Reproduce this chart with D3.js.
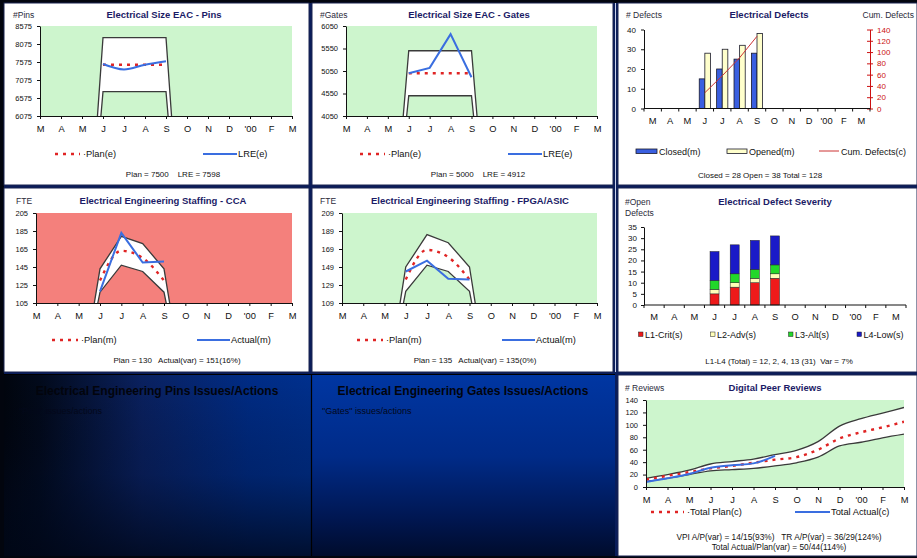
<!DOCTYPE html>
<html>
<head>
<meta charset="utf-8">
<script src="https://cdn.jsdelivr.net/npm/d3@7"></script>
<style>
  body { margin: 0; background: #0a1d5a; }
  svg { display: block; font-family: "Liberation Sans", Arial, sans-serif; }
  svg text { white-space: pre; }
</style>
</head>
<body>
<svg id="c" width="917" height="558"></svg>
<script>
// ---------- data ----------
const months = ["M", "A", "M", "J", "J", "A", "S", "O", "N", "D", "'00", "F", "M"];

// Electrical size EAC – pins (tracked Jun–Sep; control limits fall to zero outside)
const pinsTicks = [6075, 6575, 7075, 7575, 8075, 8575];
const pinsUpper = [0, 0, 0, 8250, 8250, 8250, 8250, 0, 0, 0, 0, 0, 0];
const pinsLower = [0, 0, 0, 6750, 6750, 6750, 6750, 0, 0, 0, 0, 0, 0];
const pinsPlan  = [null, null, null, 7500, 7500, 7500, 7500, null, null, null, null, null, null];
const pinsLRE   = [null, null, null, 7520, 7370, 7500, 7598, null, null, null, null, null, null];

// Electrical size EAC – gates
const gatesTicks = [4050, 4550, 5050, 5550, 6050];
const gatesUpper = [0, 0, 0, 5500, 5500, 5500, 5500, 0, 0, 0, 0, 0, 0];
const gatesLower = [0, 0, 0, 4500, 4500, 4500, 4500, 0, 0, 0, 0, 0, 0];
const gatesPlan  = [null, null, null, 5000, 5000, 5000, 5000, null, null, null, null, null, null];
const gatesLRE   = [null, null, null, 5000, 5120, 5870, 4912, null, null, null, null, null, null];

// Electrical defects
const defectTicks   = [0, 10, 20, 30, 40];
const cumTicks      = [0, 20, 40, 60, 80, 100, 120, 140];
const defectsClosed = [null, null, null, 15, 20, 25, 28, null, null, null, null, null, null];
const defectsOpened = [null, null, null, 28, 30, 32, 38, null, null, null, null, null, null];
const defectsCum    = [null, null, null, 28, 58, 90, 128, null, null, null, null, null, null];

// Staffing – CCA
const ccaTicks  = [105, 125, 145, 165, 185, 205];
const ccaUpper  = [0, 0, 0, 143, 179, 171, 143, 0, 0, 0, 0, 0, 0];
const ccaLower  = [0, 0, 0, 117, 147, 140, 117, 0, 0, 0, 0, 0, 0];
const ccaPlan   = [null, null, null, 130, 163, 155, 130, null, null, null, null, null, null];
const ccaActual = [null, null, null, 118, 183, 150, 151, null, null, null, null, null, null];

// Staffing – FPGA/ASIC
const fpgaTicks  = [109, 129, 149, 169, 189, 209];
const fpgaUpper  = [0, 0, 0, 149, 185, 176, 149, 0, 0, 0, 0, 0, 0];
const fpgaLower  = [0, 0, 0, 122, 151, 144, 122, 0, 0, 0, 0, 0, 0];
const fpgaPlan   = [null, null, null, 135, 168, 160, 135, null, null, null, null, null, null];
const fpgaActual = [null, null, null, 144, 156, 136, 135, null, null, null, null, null, null];

// Defect severity (open defects by level)
const sevTicks = [0, 5, 10, 15, 20, 25, 30, 35];
const sevKeys  = ["L1-Crit(s)", "L2-Adv(s)", "L3-Alt(s)", "L4-Low(s)"];
const sevL1 = [null, null, null, 5, 8, 10, 12, null, null, null, null, null, null];
const sevL2 = [null, null, null, 2, 2, 2, 2, null, null, null, null, null, null];
const sevL3 = [null, null, null, 4, 4, 4, 4, null, null, null, null, null, null];
const sevL4 = [null, null, null, 13, 13, 13, 13, null, null, null, null, null, null];

// Digital peer reviews (cumulative)
const revTicks  = [0, 20, 40, 60, 80, 100, 120, 140];
const revUpper  = [14, 20, 27, 37, 41, 45, 52, 59, 73, 98, 110, 119, 128];
const revLower  = [9, 14, 20, 26, 28, 30, 34, 39, 48, 66, 72, 79, 85];
const revPlan   = [12, 18, 24, 30, 34, 39, 44, 48, 60, 78, 88, 96, 105];
const revActual = [8, 14, 21, 31, 35, 38, 50, null, null, null, null, null, null];

// ---------- drawing ----------
const W = 917, H = 558;
const FONT = "Liberation Sans, Arial, sans-serif";
const TITLE = "#1b1b66";
const GREEN = "#cdf5cd";
const SALMON = "#f4807c";
const RED = "#e02424";
const BLUE = "#3a6ee0";
const svg = d3.select("#c");
const defs = svg.append("defs");
let clipN = 0;

// page frame
svg.append("rect").attr("width", W).attr("height", H).attr("fill", "#0a1d5a");
svg.append("rect").attr("width", 4).attr("height", H).attr("fill", "#02050e");
svg.append("rect").attr("width", W).attr("height", 3).attr("fill", "#02050e");
svg.append("rect").attr("y", 556).attr("width", W).attr("height", 2).attr("fill", "#02050e");

// white chart panels
[[4, 3, 305, 182], [312, 3, 301, 182], [618, 3, 299, 182],
 [4, 188, 305, 184], [312, 188, 301, 184], [618, 188, 299, 184],
 [618, 375, 299, 181]].forEach(([x, y, w, h]) => {
  svg.append("rect").attr("x", x).attr("y", y).attr("width", w).attr("height", h)
    .attr("fill", "#fff").attr("stroke", "#1a2450").attr("stroke-width", 1);
});
svg.append("line").attr("x1", 615.5).attr("x2", 615.5).attr("y1", 3).attr("y2", 372)
  .attr("stroke", "#c8d0e8").attr("stroke-width", 1);

// issues/actions text boxes
const gH = defs.append("linearGradient").attr("id", "gH").attr("x1", 0).attr("x2", 1).attr("y1", 0).attr("y2", 0);
[[0, "#01050e"], [0.12, "#020a1c"], [0.45, "#0a2160"], [0.8, "#002c86"], [1, "#00308e"]]
  .forEach(([o, c]) => gH.append("stop").attr("offset", o).attr("stop-color", c));
const gV = defs.append("linearGradient").attr("id", "gV").attr("x1", 0).attr("x2", 0).attr("y1", 0).attr("y2", 1);
[[0, "#000", 0], [0.55, "#000a22", 0.25], [1, "#000718", 0.8]]
  .forEach(([o, c, a]) => gV.append("stop").attr("offset", o).attr("stop-color", c).attr("stop-opacity", a));
const gB = defs.append("linearGradient").attr("id", "gB").attr("x1", 0).attr("x2", 0).attr("y1", 0).attr("y2", 1);
[[0, "#0036a2"], [0.45, "#002b88"], [0.8, "#001650"], [1, "#000c2c"]]
  .forEach(([o, c]) => gB.append("stop").attr("offset", o).attr("stop-color", c));

svg.append("rect").attr("x", 4).attr("y", 375).attr("width", 307).attr("height", 181).attr("fill", "url(#gH)");
svg.append("rect").attr("x", 4).attr("y", 375).attr("width", 307).attr("height", 181).attr("fill", "url(#gV)");
svg.append("rect").attr("x", 312).attr("y", 375).attr("width", 303).attr("height", 181).attr("fill", "url(#gB)");
svg.append("line").attr("x1", 311.5).attr("x2", 311.5).attr("y1", 374).attr("y2", 556).attr("stroke", "#000").attr("stroke-width", 1.2);
svg.append("line").attr("x1", 4).attr("x2", 615).attr("y1", 374.5).attr("y2", 374.5).attr("stroke", "#000").attr("stroke-width", 1.2);

function text(x, y, s, o = {}) {
  return svg.append("text").attr("x", x).attr("y", y).text(s)
    .attr("font-family", FONT).attr("font-size", o.size || 9)
    .attr("font-weight", o.bold ? "bold" : null)
    .attr("text-anchor", o.anchor || "start")
    .attr("fill", o.fill || "#111");
}

text(157, 395, "Electrical Engineering Pins Issues/Actions", { size: 12, bold: true, anchor: "middle", fill: "#02040c" });
text(19, 414, "\"Pins\" issues/actions", { size: 9, fill: "#03081a" });
text(463, 395, "Electrical Engineering Gates Issues/Actions", { size: 12, bold: true, anchor: "middle", fill: "#02040c" });
text(322, 414, "\"Gates\" issues/actions", { size: 9, fill: "#03081a" });

function styleAxis(ax, size, color) {
  ax.attr("font-family", FONT).attr("font-size", size);
  ax.selectAll("path,line").attr("stroke", color || "#111");
  ax.selectAll("text").attr("fill", color || "#111");
}

function lineLegend(x1, x2, y, dashed, label) {
  svg.append("line").attr("x1", x1).attr("x2", x2).attr("y1", y).attr("y2", y)
    .attr("stroke", dashed ? RED : BLUE).attr("stroke-width", dashed ? 2.4 : 2)
    .attr("stroke-dasharray", dashed ? "3,5" : null);
  text(x2 + (dashed ? 3 : 1), y + 3.3, (dashed ? "\u00b7" : "") + label, { size: 9.3 });
}

// Line chart with a white control band between upper and lower limits
function lineChart(o) {
  const g = svg.append("g");
  const x = d3.scalePoint().domain(d3.range(months.length)).range([o.left, o.right]);
  const y = d3.scaleLinear().domain(d3.extent(o.ticks)).range([o.bottom, o.top]);
  g.append("rect").attr("x", o.left).attr("y", o.top)
    .attr("width", o.right - o.left).attr("height", o.bottom - o.top).attr("fill", o.bg);
  const id = "clip" + (clipN++);
  defs.append("clipPath").attr("id", id).append("rect")
    .attr("x", o.left).attr("y", o.top).attr("width", o.right - o.left).attr("height", o.bottom - o.top);
  const plot = g.append("g").attr("clip-path", `url(#${id})`);
  const xi = (d, i) => x(i);
  const area = d3.area().x(xi).y0((d, i) => y(o.lower[i])).y1(d => y(d)).curve(o.bandCurve);
  plot.append("path").attr("d", area(o.upper)).attr("fill", "#fff");
  const line = c => d3.line().defined(d => d != null).x(xi).y(d => y(d)).curve(c);
  [o.upper, o.lower].forEach(s => plot.append("path").attr("d", line(o.bandCurve)(s))
    .attr("fill", "none").attr("stroke", "#3a3a3a").attr("stroke-width", 1.3));
  plot.append("path").attr("d", line(o.planCurve)(o.plan)).attr("fill", "none")
    .attr("stroke", RED).attr("stroke-width", 2.4).attr("stroke-dasharray", "3,5");
  plot.append("path").attr("d", line(o.actCurve)(o.actual)).attr("fill", "none")
    .attr("stroke", BLUE).attr("stroke-width", 2);

  const ya = g.append("g").attr("transform", `translate(${o.left},0)`)
    .call(d3.axisLeft(y).tickValues(o.ticks).tickFormat(d3.format("d")).tickSize(3).tickSizeOuter(0).tickPadding(5));
  styleAxis(ya, 7.5);
  const xa = g.append("g").attr("transform", `translate(0,${o.bottom})`)
    .call(d3.axisBottom(x).tickFormat(i => months[i]).tickSize(3).tickSizeOuter(0).tickPadding(6));
  styleAxis(xa, 9.3);
  return { x, y };
}

function header(x, y, unit, title, titleX) {
  text(x, y, unit, { size: 8.5, fill: "#2a2a3a" });
  text(titleX, y, title, { size: 9.5, bold: true, anchor: "middle", fill: TITLE });
}

// ----- Electrical Size EAC - Pins -----
header(13, 18, "#Pins", "Electrical Size EAC - Pins", 164);
lineChart({ left: 40, right: 292, top: 26, bottom: 116, bg: GREEN, ticks: pinsTicks,
  upper: pinsUpper, lower: pinsLower, plan: pinsPlan, actual: pinsLRE,
  bandCurve: d3.curveLinear, planCurve: d3.curveLinear, actCurve: d3.curveMonotoneX });
lineLegend(55, 80, 154, true, "Plan(e)");
lineLegend(203, 237, 154, false, "LRE(e)");
text(173, 177, "Plan = 7500    LRE = 7598", { size: 8, anchor: "middle" });

// ----- Electrical Size EAC - Gates -----
header(320, 18, "#Gates", "Electrical Size EAC - Gates", 469);
lineChart({ left: 346, right: 597, top: 26, bottom: 116, bg: GREEN, ticks: gatesTicks,
  upper: gatesUpper, lower: gatesLower, plan: gatesPlan, actual: gatesLRE,
  bandCurve: d3.curveLinear, planCurve: d3.curveLinear, actCurve: d3.curveLinear });
lineLegend(360, 385, 154, true, "Plan(e)");
lineLegend(508, 542, 154, false, "LRE(e)");
text(478, 177, "Plan = 5000    LRE = 4912", { size: 8, anchor: "middle" });

// ----- Electrical Engineering Staffing - CCA -----
header(16, 204, "FTE", "Electrical Engineering Staffing - CCA", 163);
lineChart({ left: 36, right: 292, top: 213, bottom: 303, bg: SALMON, ticks: ccaTicks,
  upper: ccaUpper, lower: ccaLower, plan: ccaPlan, actual: ccaActual,
  bandCurve: d3.curveLinear, planCurve: d3.curveMonotoneX, actCurve: d3.curveLinear });
lineLegend(52, 78, 340, true, "Plan(m)");
lineLegend(197, 230, 340, false, "Actual(m)");
text(177, 363, "Plan = 130   Actual(var) = 151(16%)", { size: 8, anchor: "middle" });

// ----- Electrical Engineering Staffing - FPGA/ASIC -----
header(320, 204, "FTE", "Electrical Engineering Staffing - FPGA/ASIC", 470);
lineChart({ left: 342, right: 597, top: 213, bottom: 303, bg: GREEN, ticks: fpgaTicks,
  upper: fpgaUpper, lower: fpgaLower, plan: fpgaPlan, actual: fpgaActual,
  bandCurve: d3.curveLinear, planCurve: d3.curveMonotoneX, actCurve: d3.curveLinear });
lineLegend(357, 383, 340, true, "Plan(m)");
lineLegend(502, 535, 340, false, "Actual(m)");
text(475, 363, "Plan = 135   Actual(var) = 135(0%)", { size: 8, anchor: "middle" });

// ----- Digital Peer Reviews -----
header(625, 391, "# Reviews", "Digital Peer Reviews", 775);
lineChart({ left: 646, right: 904, top: 400, bottom: 487, bg: GREEN, ticks: revTicks,
  upper: revUpper, lower: revLower, plan: revPlan, actual: revActual,
  bandCurve: d3.curveMonotoneX, planCurve: d3.curveMonotoneX, actCurve: d3.curveMonotoneX });
lineLegend(651, 684, 512, true, "Total Plan(c)");
lineLegend(795, 830, 512, false, "Total Actual(c)");
text(779, 540, "VPI A/P(var) = 14/15(93%)   TR A/P(var) = 36/29(124%)", { size: 8.3, anchor: "middle" });
text(779, 549.5, "Total Actual/Plan(var) = 50/44(114%)", { size: 8.3, anchor: "middle" });

// month axis for bar charts: ticks at category boundaries
function bandAxis(x, y0) {
  const g = svg.append("g");
  const [a, b] = x.range();
  g.append("line").attr("x1", a).attr("x2", b).attr("y1", y0).attr("y2", y0).attr("stroke", "#111");
  d3.range(months.length + 1).forEach(i => {
    const xx = a + i * x.step();
    g.append("line").attr("x1", xx).attr("x2", xx).attr("y1", y0).attr("y2", y0 + 3).attr("stroke", "#111");
  });
  months.forEach((m, i) => text(x(i) + x.bandwidth() / 2, y0 + 15, m, { size: 9.3, anchor: "middle" }));
}

// ----- Electrical Defects -----
{
  header(626, 18, "# Defects", "Electrical Defects", 769);
  text(914, 18, "Cum. Defects", { size: 8.5, anchor: "end", fill: "#2a2a3a" });
  const x = d3.scaleBand().domain(d3.range(months.length)).range([644, 870]);
  const y = d3.scaleLinear().domain(d3.extent(defectTicks)).range([108.5, 29.5]);
  const yc = d3.scaleLinear().domain(d3.extent(cumTicks)).range([108.5, 29.5]);
  const bw = 5.6;
  months.forEach((m, i) => {
    const cx = x(i) + x.bandwidth() / 2;
    if (defectsClosed[i] != null)
      svg.append("rect").attr("x", cx - bw).attr("y", y(defectsClosed[i])).attr("width", bw)
        .attr("height", y(0) - y(defectsClosed[i])).attr("fill", "#3a5fe0").attr("stroke", "#1a1a2a").attr("stroke-width", 0.8);
    if (defectsOpened[i] != null)
      svg.append("rect").attr("x", cx).attr("y", y(defectsOpened[i])).attr("width", bw)
        .attr("height", y(0) - y(defectsOpened[i])).attr("fill", "#ffffcc").attr("stroke", "#1a1a2a").attr("stroke-width", 0.8);
  });
  svg.append("path").attr("d", d3.line().defined(d => d != null)
      .x((d, i) => x(i) + x.bandwidth() / 2).y(d => yc(d))(defectsCum))
    .attr("fill", "none").attr("stroke", "#cc3333").attr("stroke-width", 1);
  const ya = svg.append("g").attr("transform", "translate(644,0)")
    .call(d3.axisLeft(y).tickValues(defectTicks).tickSize(3).tickSizeOuter(0).tickPadding(5));
  styleAxis(ya, 8);
  const yr = svg.append("g").attr("transform", "translate(870,0)")
    .call(d3.axisRight(yc).tickValues(cumTicks).tickSize(3).tickSizeOuter(0).tickPadding(4));
  styleAxis(yr, 8, "#cc1111");
  yr.selectAll(".tick line").attr("x1", -3);
  bandAxis(x, 108.5);
  svg.append("rect").attr("x", 636).attr("y", 149).attr("width", 21).attr("height", 4.5)
    .attr("fill", "#3a5fe0").attr("stroke", "#1a1a2a").attr("stroke-width", 0.8);
  text(659, 154.5, "Closed(m)", { size: 9 });
  svg.append("rect").attr("x", 727).attr("y", 149).attr("width", 20).attr("height", 4.5)
    .attr("fill", "#ffffcc").attr("stroke", "#1a1a2a").attr("stroke-width", 0.8);
  text(749, 154.5, "Opened(m)", { size: 9 });
  svg.append("line").attr("x1", 819).attr("x2", 839).attr("y1", 151).attr("y2", 151)
    .attr("stroke", "#cc3333").attr("stroke-width", 1);
  text(841, 154.5, "Cum. Defects(c)", { size: 9 });
  text(760, 178, "Closed = 28 Open = 38 Total = 128", { size: 8, anchor: "middle" });
}

// ----- Electrical Defect Severity -----
{
  text(625, 205, "#Open", { size: 8.5, fill: "#2a2a3a" });
  text(625, 215.5, "Defects", { size: 8.5, fill: "#2a2a3a" });
  text(775, 205, "Electrical Defect Severity", { size: 9.5, bold: true, anchor: "middle", fill: TITLE });
  const x = d3.scaleBand().domain(d3.range(months.length)).range([644, 906]);
  const y = d3.scaleLinear().domain(d3.extent(sevTicks)).range([305, 227]);
  const rows = months.map((m, i) => ({ i, [sevKeys[0]]: sevL1[i] || 0, [sevKeys[1]]: sevL2[i] || 0,
    [sevKeys[2]]: sevL3[i] || 0, [sevKeys[3]]: sevL4[i] || 0 })).filter(r => sevL1[r.i] != null);
  const colors = ["#ee1a1a", "#ffffb8", "#22d82a", "#1a1ac8"];
  const stack = d3.stack().keys(sevKeys)(rows);
  const bw = 9;
  stack.forEach((layer, k) => layer.forEach(seg => {
    const cx = x(seg.data.i) + x.bandwidth() / 2;
    svg.append("rect").attr("x", cx - bw / 2).attr("y", y(seg[1])).attr("width", bw)
      .attr("height", y(seg[0]) - y(seg[1])).attr("fill", colors[k])
      .attr("stroke", "#222").attr("stroke-width", 0.5);
  }));
  const ya = svg.append("g").attr("transform", "translate(644,0)")
    .call(d3.axisLeft(y).tickValues(sevTicks).tickSize(3).tickSizeOuter(0).tickPadding(4));
  styleAxis(ya, 8);
  bandAxis(x, 305);
  [[638.5, 645], [710.5, 717], [788.5, 795], [857, 863.5]].forEach(([sx, tx], k) => {
    svg.append("rect").attr("x", sx).attr("y", 332).attr("width", 4.5).attr("height", 4.5)
      .attr("fill", colors[k]).attr("stroke", "#222").attr("stroke-width", 0.5);
    text(tx, 337.5, sevKeys[k], { size: 9 });
  });
  text(779, 364, "L1-L4 (Total) = 12, 2, 4, 13 (31)  Var = 7%", { size: 8, anchor: "middle" });
}
</script>
</body>
</html>
